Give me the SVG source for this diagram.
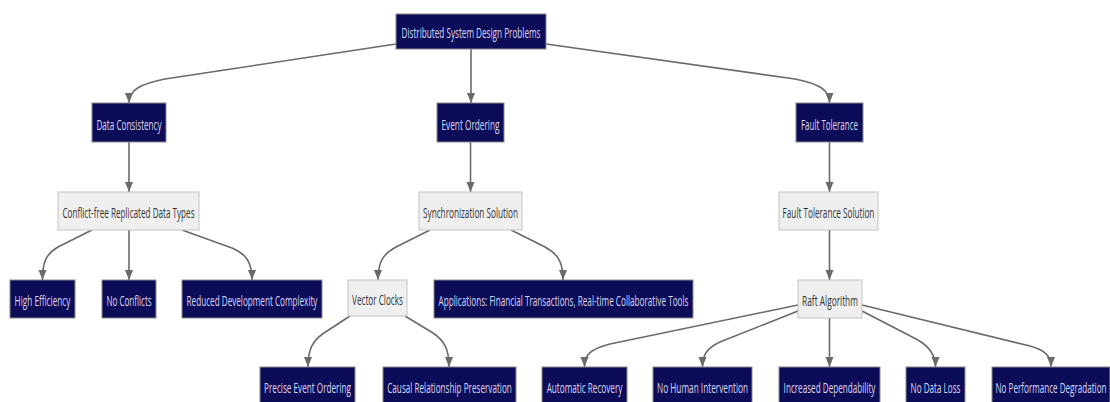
<svg xmlns="http://www.w3.org/2000/svg" width="1110" height="402" viewBox="0 0 1110 402">
<style>
.d rect{fill:#0c0c58;stroke:#8a8a8a;stroke-width:1}
.l rect{fill:#efefef;stroke:#c4c4c4;stroke-width:1}
text{font-family:"Open Sans","Noto Sans",sans-serif;font-size:14px;text-anchor:middle}
.d text{fill:#d8d8f6}
.l text{fill:#333}
#edges path{fill:none;stroke:#6a6a6a;stroke-width:1.6;marker-end:url(#arr)}
</style>
<defs>
<marker id="arr" markerUnits="userSpaceOnUse" markerWidth="10" markerHeight="10" viewBox="0 0 10 8" refX="10" refY="4" orient="auto">
<path d="M0,0 L10,4 L0,8 z" fill="#6a6a6a"/>
</marker>
</defs>
<rect width="1110" height="402" fill="#fff"/>
<g id="edges">
<path d="M396,44 L165,79 C140,84 129,90 129,103"/>
<path d="M471,48 L471,103"/>
<path d="M546,44 L795,79 C820,84 829.5,90 829.5,103"/>
<path d="M129,142 L129,192"/>
<path d="M470.5,142 L470.5,192"/>
<path d="M829.5,142 L829.5,192"/>
<path d="M92,230 L58,247 C46,254 42.5,262 42.5,280"/>
<path d="M129,230 L129,280"/>
<path d="M182,230 L232,248 C246,254 252,262 252,280"/>
<path d="M430,230 L396,247 C383,254 378,262 378,280"/>
<path d="M511,230 L545,247 C558,254 563,262 563,280"/>
<path d="M829.5,230 L829.5,280"/>
<path d="M350,316 L324,333 C312,341 308,350 308,367"/>
<path d="M405,316 L433,333 C445,341 449,350 449,367"/>
<path d="M798,305 L610,344 C590,349 584.5,355 584.5,367"/>
<path d="M798,311 L720,342 C707,348 702.5,355 702.5,367"/>
<path d="M829.5,318 L829.5,367"/>
<path d="M862,311 L918,340 C930,347 935.5,355 935.5,367"/>
<path d="M862,305 L1030,346 C1045,350 1051,356 1051,367"/>
</g>
<g id="root" class="d"><rect x="396" y="14" width="150" height="35"/><text transform="translate(471,38) scale(0.62,1)" textLength="224" lengthAdjust="spacingAndGlyphs">Distributed System Design Problems</text></g>
<g id="dataConsistency" class="d"><rect x="92" y="103" width="74" height="39"/><text transform="translate(129,129.5) scale(0.62,1)" textLength="105" lengthAdjust="spacingAndGlyphs">Data Consistency</text></g>
<g id="eventOrdering" class="d"><rect x="437" y="103" width="67" height="39"/><text transform="translate(470.5,129.5) scale(0.62,1)" textLength="93.5" lengthAdjust="spacingAndGlyphs">Event Ordering</text></g>
<g id="faultTolerance" class="d"><rect x="796" y="103" width="67" height="39"/><text transform="translate(829.5,129.5) scale(0.62,1)" textLength="92" lengthAdjust="spacingAndGlyphs">Fault Tolerance</text></g>
<g id="crdt" class="l"><rect x="58" y="192" width="141" height="38"/><text transform="translate(128.5,218) scale(0.62,1)" textLength="213" lengthAdjust="spacingAndGlyphs">Conflict-free Replicated Data Types</text></g>
<g id="syncSolution" class="l"><rect x="419" y="192" width="103" height="38"/><text transform="translate(470.5,218) scale(0.62,1)" textLength="153" lengthAdjust="spacingAndGlyphs">Synchronization Solution</text></g>
<g id="ftSolution" class="l"><rect x="779" y="192" width="99" height="38"/><text transform="translate(828.5,218) scale(0.62,1)" textLength="148" lengthAdjust="spacingAndGlyphs">Fault Tolerance Solution</text></g>
<g id="highEfficiency" class="d"><rect x="10" y="280" width="65" height="38"/><text transform="translate(42.5,306) scale(0.62,1)" textLength="90" lengthAdjust="spacingAndGlyphs">High Efficiency</text></g>
<g id="noConflicts" class="d"><rect x="102" y="280" width="54" height="38"/><text transform="translate(129,306) scale(0.62,1)" textLength="73" lengthAdjust="spacingAndGlyphs">No Conflicts</text></g>
<g id="reducedComplexity" class="d"><rect x="182" y="280" width="140" height="38"/><text transform="translate(252,306) scale(0.62,1)" textLength="211" lengthAdjust="spacingAndGlyphs">Reduced Development Complexity</text></g>
<g id="vectorClocks" class="l"><rect x="348" y="280" width="59" height="36"/><text transform="translate(377.5,305) scale(0.62,1)" textLength="82" lengthAdjust="spacingAndGlyphs">Vector Clocks</text></g>
<g id="applications" class="d"><rect x="434" y="280" width="259" height="38"/><text transform="translate(563.5,306) scale(0.62,1)" textLength="403" lengthAdjust="spacingAndGlyphs">Applications: Financial Transactions, Real-time Collaborative Tools</text></g>
<g id="raft" class="l"><rect x="798" y="280" width="64" height="38"/><text transform="translate(830,306) scale(0.62,1)" textLength="90" lengthAdjust="spacingAndGlyphs">Raft Algorithm</text></g>
<g id="preciseOrdering" class="d"><rect x="260" y="367" width="95" height="38"/><text transform="translate(307.5,393) scale(0.62,1)" textLength="140" lengthAdjust="spacingAndGlyphs">Precise Event Ordering</text></g>
<g id="causalPreservation" class="d"><rect x="383" y="367" width="133" height="38"/><text transform="translate(449.5,393) scale(0.62,1)" textLength="201" lengthAdjust="spacingAndGlyphs">Causal Relationship Preservation</text></g>
<g id="automaticRecovery" class="d"><rect x="542" y="367" width="85" height="38"/><text transform="translate(584.5,393) scale(0.62,1)" textLength="122" lengthAdjust="spacingAndGlyphs">Automatic Recovery</text></g>
<g id="noHumanIntervention" class="d"><rect x="653" y="367" width="99" height="38"/><text transform="translate(702.5,393) scale(0.62,1)" textLength="147" lengthAdjust="spacingAndGlyphs">No Human Intervention</text></g>
<g id="increasedDependability" class="d"><rect x="779" y="367" width="101" height="38"/><text transform="translate(829.5,393) scale(0.62,1)" textLength="148" lengthAdjust="spacingAndGlyphs">Increased Dependability</text></g>
<g id="noDataLoss" class="d"><rect x="906" y="367" width="59" height="38"/><text transform="translate(935.5,393) scale(0.62,1)" textLength="80.5" lengthAdjust="spacingAndGlyphs">No Data Loss</text></g>
<g id="noPerfDegradation" class="d"><rect x="992" y="367" width="118" height="38"/><text transform="translate(1051,393) scale(0.62,1)" textLength="179" lengthAdjust="spacingAndGlyphs">No Performance Degradation</text></g>
</svg>
